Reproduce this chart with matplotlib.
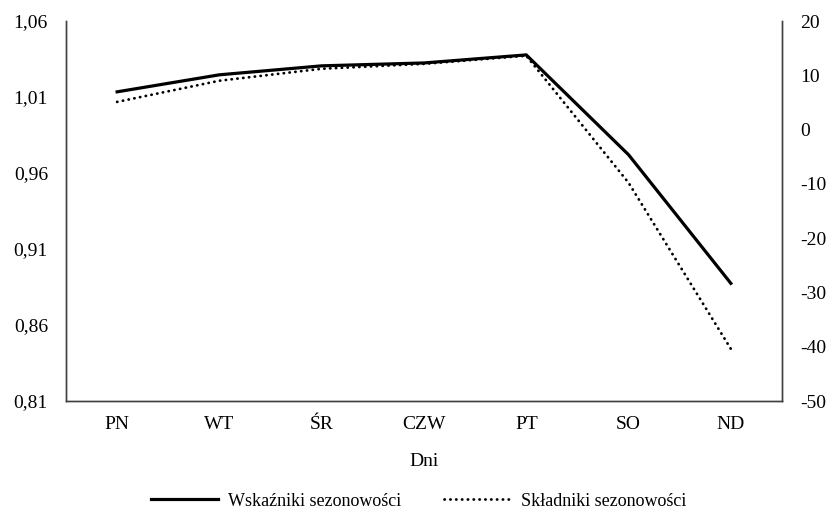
import matplotlib
matplotlib.use("Agg")
import matplotlib.pyplot as plt

days = ["PN", "WT", "ŚR", "CZW", "PT", "SO", "ND"]
wskazniki = [1.0134, 1.0246, 1.0305, 1.0324, 1.0377, 0.972, 0.8874]
skladniki = [5.1, 9.0, 11.2, 12.1, 13.6, -9.8, -40.4]
left_ticks = [0.81, 0.86, 0.91, 0.96, 1.01, 1.06]
left_labels = ["0,81", "0,86", "0,91", "0,96", "1,01", "1,06"]
right_ticks = [-50, -40, -30, -20, -10, 0, 10, 20]

plt.rcParams['font.family'] = ['Liberation Serif', 'DejaVu Serif']
plt.rcParams['axes.unicode_minus'] = False

fig = plt.figure(figsize=(8.31, 5.12), dpi=100)
ax = fig.add_axes([66/831, 1 - 401/512, (782-66)/831, (401-21)/512])
ax2 = ax.twinx()

x = list(range(len(days)))
l1, = ax.plot(x, wskazniki, color='black', lw=2.3, solid_joinstyle='miter')
l2, = ax2.plot(x, skladniki, color='black', lw=2.0, linestyle=(0, (0.1, 2.0)), dash_capstyle='round')

ax.set_xlim(-0.5, len(days) - 0.5)
ax.set_ylim(0.81, 1.06)
ax2.set_ylim(-50, 20)
ax.set_yticks(left_ticks)
ax.set_yticklabels(left_labels)
ax2.set_yticks(right_ticks)
ax.set_xticks(x)
ax.set_xticklabels(days)

for a in (ax, ax2):
    a.spines['top'].set_visible(False)
    for s in ('left', 'right', 'bottom'):
        a.spines[s].set_color('#404040')
        a.spines[s].set_linewidth(1.0)
    a.tick_params(length=0, labelsize=14, colors='black')
ax.tick_params(axis='y', pad=13)
ax.tick_params(axis='x', pad=11)
ax2.tick_params(axis='y', pad=13)

ax.set_xlabel("Dni", fontsize=14, labelpad=14)

fig.legend([l1, l2], ["Wskaźniki sezonowości", "Składniki sezonowości"],
           loc='center', bbox_to_anchor=(0.504, 1 - 501/512), ncol=2, frameon=False,
           fontsize=13, handlelength=3.7, columnspacing=2.4, handletextpad=0.55)

fig.savefig("out.png", dpi=100)
